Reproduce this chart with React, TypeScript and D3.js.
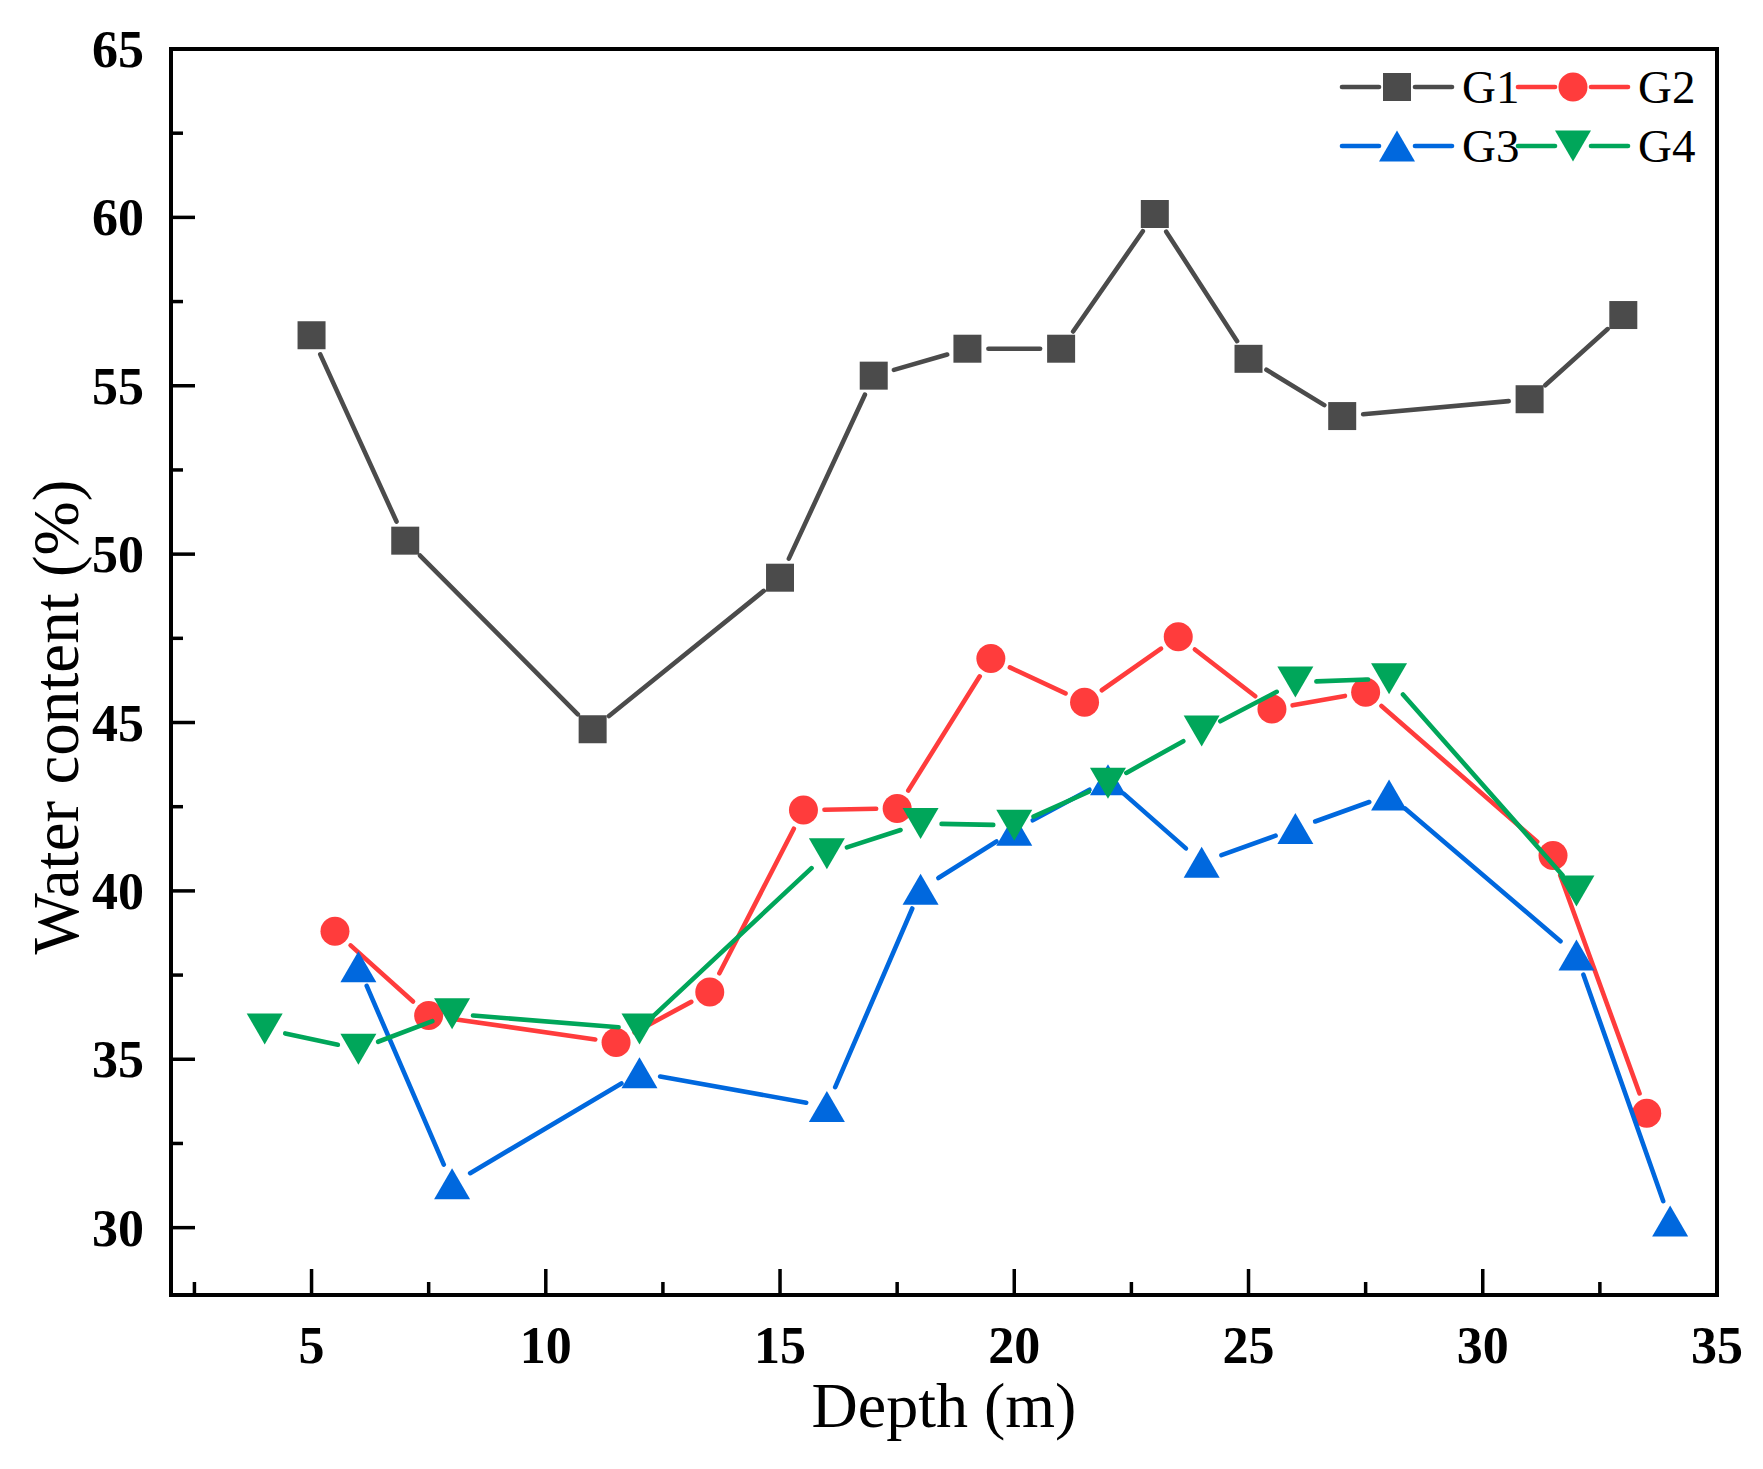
import { useEffect, useRef } from "react";
import * as d3 from "d3";

// depth (m) / water content (%)
const g1Depth = [5, 7, 11, 15, 17, 19, 21, 23, 25, 27, 31, 33];
const g1Water = [56.5, 50.4, 44.8, 49.3, 55.3, 56.1, 56.1, 60.1, 55.8, 54.1, 54.6, 57.1];

const g2Depth = [5.5, 7.5, 11.5, 13.5, 15.5, 17.5, 19.5, 21.5, 23.5, 25.5, 27.5, 31.5, 33.5];
const g2Water = [38.8, 36.3, 35.5, 37.0, 42.4, 42.45, 46.9, 45.6, 47.55, 45.4, 45.9, 41.05, 33.4];

const g3Depth = [6, 8, 12, 16, 18, 20, 22, 24, 26, 28, 32, 34];
const g3Water = [37.75, 31.3, 34.6, 33.6, 40.05, 41.8, 43.3, 40.85, 41.85, 42.85, 38.1, 30.2];

const g4Depth = [4, 6, 8, 12, 16, 18, 20, 22, 24, 26, 28, 32];
const g4Water = [35.9, 35.3, 36.35, 35.9, 41.1, 42.0, 41.95, 43.2, 44.75, 46.2, 46.3, 40.0];

const seriesNames = ["G1", "G2", "G3", "G4"];
const xTicks = [5, 10, 15, 20, 25, 30, 35];
const yTicks = [30, 35, 40, 45, 50, 55, 60, 65];

const W = 1763;
const H = 1469;
const FONT = "'Liberation Serif', 'Times New Roman', serif";

type Marker = "square" | "circle" | "up" | "down";

function markerPath(kind: Marker): string {
  if (kind === "square") return "M-14,-14H14V14H-14Z";
  if (kind === "circle") return d3.symbol(d3.symbolCircle, Math.PI * 14.5 * 14.5)() as string;
  if (kind === "up") return "M0,-15.5L18,15.5L-18,15.5Z";
  return "M0,15.5L18,-15.5L-18,-15.5Z";
}

export default function App() {
  const ref = useRef<SVGSVGElement | null>(null);

  useEffect(() => {
    const svg = d3.select(ref.current);
    svg.selectAll("*").remove();

    const left = 171;
    const right = 1717;
    const top = 49;
    const bottom = 1295;

    const x = d3.scaleLinear().domain([2, 35]).range([left, right]);
    const y = d3.scaleLinear().domain([28, 65]).range([bottom, top]);

    const series = [
      { name: seriesNames[0], depth: g1Depth, water: g1Water, color: "#4b4b4b", marker: "square" as Marker },
      { name: seriesNames[1], depth: g2Depth, water: g2Water, color: "#ff3c3c", marker: "circle" as Marker },
      { name: seriesNames[2], depth: g3Depth, water: g3Water, color: "#0068de", marker: "up" as Marker },
      { name: seriesNames[3], depth: g4Depth, water: g4Water, color: "#00a65a", marker: "down" as Marker },
    ];

    svg.append("rect").attr("width", W).attr("height", H).attr("fill", "#fff");

    // ticks (inward, left + bottom only)
    const minorX = d3.range(2.5, 35, 5);
    const minorY = d3.range(32.5, 65, 5);
    const tickG = svg.append("g").attr("stroke", "#000").attr("stroke-width", 3.5);
    tickG.selectAll("line.xmaj").data(xTicks.filter((d) => d < 35)).join("line")
      .attr("x1", (d) => x(d)).attr("x2", (d) => x(d))
      .attr("y1", bottom).attr("y2", bottom - 26);
    tickG.selectAll("line.xmin").data(minorX).join("line")
      .attr("x1", (d) => x(d)).attr("x2", (d) => x(d))
      .attr("y1", bottom).attr("y2", bottom - 13);
    tickG.selectAll("line.ymaj").data(yTicks.filter((d) => d < 65)).join("line")
      .attr("x1", left).attr("x2", left + 24)
      .attr("y1", (d) => y(d)).attr("y2", (d) => y(d));
    tickG.selectAll("line.ymin").data(minorY).join("line")
      .attr("x1", left).attr("x2", left + 12)
      .attr("y1", (d) => y(d)).attr("y2", (d) => y(d));

    // frame
    svg.append("rect")
      .attr("x", left).attr("y", top)
      .attr("width", right - left).attr("height", bottom - top)
      .attr("fill", "none").attr("stroke", "#000").attr("stroke-width", 4);

    // tick labels
    svg.append("g").selectAll("text").data(xTicks).join("text")
      .attr("x", (d) => x(d)).attr("y", 1363)
      .attr("text-anchor", "middle")
      .attr("font-family", FONT).attr("font-weight", 700).attr("font-size", 52)
      .text((d) => d);
    svg.append("g").selectAll("text").data(yTicks).join("text")
      .attr("x", 144).attr("y", (d) => y(d) + 18)
      .attr("text-anchor", "end")
      .attr("font-family", FONT).attr("font-weight", 700).attr("font-size", 52)
      .text((d) => d);

    // axis titles
    svg.append("text")
      .attr("x", (left + right) / 2).attr("y", 1427)
      .attr("text-anchor", "middle")
      .attr("font-family", FONT).attr("font-size", 64)
      .text("Depth (m)");
    svg.append("text")
      .attr("transform", "translate(78,717) rotate(-90)")
      .attr("text-anchor", "middle")
      .attr("font-family", FONT).attr("font-size", 65)
      .text("Water content (%)");

    // series: line segments with a gap around each symbol, then symbols
    const gap = 21;
    const seg = d3.line<[number, number]>();
    series.forEach((s) => {
      const pts: [number, number][] = s.depth.map((d, i) => [x(d), y(s.water[i])]);
      const g = svg.append("g");
      for (let i = 0; i < pts.length - 1; i++) {
        const [x0, y0] = pts[i];
        const [x1, y1] = pts[i + 1];
        const len = Math.hypot(x1 - x0, y1 - y0);
        if (len <= gap * 2) continue;
        const ux = (x1 - x0) / len;
        const uy = (y1 - y0) / len;
        g.append("path")
          .attr("d", seg([[x0 + ux * gap, y0 + uy * gap], [x1 - ux * gap, y1 - uy * gap]]) as string)
          .attr("stroke", s.color).attr("stroke-width", 4.6)
          .attr("stroke-linecap", "round").attr("fill", "none");
      }
      g.selectAll("path.m").data(pts).join("path")
        .attr("class", "m")
        .attr("d", markerPath(s.marker))
        .attr("transform", (p) => `translate(${p[0]},${p[1]})`)
        .attr("fill", s.color);
    });

    // legend (2 x 2)
    const legCols = [1342, 1518];
    const legRows = [87, 146];
    const lg = svg.append("g");
    series.forEach((s, i) => {
      const lx = legCols[i % 2];
      const ly = legRows[Math.floor(i / 2)];
      const mx = lx + 55;
      lg.append("line").attr("x1", lx).attr("x2", mx - 18).attr("y1", ly).attr("y2", ly)
        .attr("stroke", s.color).attr("stroke-width", 4.6).attr("stroke-linecap", "round");
      lg.append("line").attr("x1", mx + 18).attr("x2", lx + 110).attr("y1", ly).attr("y2", ly)
        .attr("stroke", s.color).attr("stroke-width", 4.6).attr("stroke-linecap", "round");
      lg.append("path").attr("d", markerPath(s.marker))
        .attr("transform", `translate(${mx},${ly})`).attr("fill", s.color);
      lg.append("text")
        .attr("x", lx + 120).attr("y", ly + 16)
        .attr("font-family", FONT).attr("font-size", 47)
        .text(s.name);
    });
  }, []);

  return (
    <div style={{ position: "absolute", left: 0, top: 0 }}>
      <svg ref={ref} width={W} height={H} style={{ display: "block" }} />
    </div>
  );
}
